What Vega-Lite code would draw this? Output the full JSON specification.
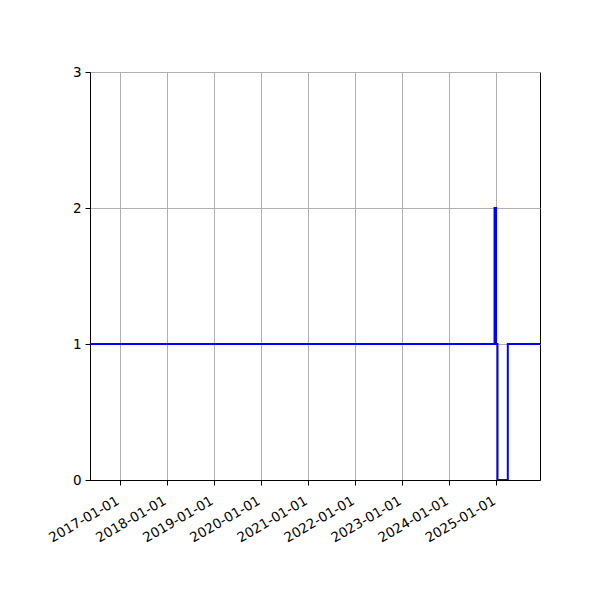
{
  "$schema": "https://vega.github.io/schema/vega-lite/v6.json",
  "width": 450,
  "height": 408,
  "autosize": {"type": "none"},
  "padding": {"left": 90, "top": 72, "right": 60, "bottom": 120},
  "background": "white",
  "config": {
    "view": {"stroke": "black", "strokeWidth": 1},
    "axis": {
      "labelFont": "DejaVu Sans",
      "labelFontSize": 13.5,
      "labelColor": "black",
      "domainColor": "black",
      "tickColor": "black",
      "tickSize": 5,
      "gridColor": "#b0b0b0",
      "gridWidth": 1,
      "title": null,
      "labelOverlap": false
    }
  },
  "data": {
    "values": [
      {"date": "2016-05-15", "value": 1},
      {"date": "2024-12-20", "value": 2},
      {"date": "2025-01-01", "value": 1},
      {"date": "2025-01-12", "value": 0},
      {"date": "2025-04-02", "value": 1},
      {"date": "2025-12-31", "value": 1}
    ]
  },
  "mark": {"type": "line", "interpolate": "step-after", "color": "blue", "strokeWidth": 2, "clip": true},
  "encoding": {
    "x": {
      "field": "date",
      "type": "temporal",
      "scale": {"domain": ["2016-05-15", "2025-12-08"]},
      "axis": {
        "values": ["2017-01-01", "2018-01-01", "2019-01-01", "2020-01-01", "2021-01-01", "2022-01-01", "2023-01-01", "2024-01-01", "2025-01-01"],
        "format": "%Y-%m-%d",
        "labelAngle": -30,
        "labelAlign": "right",
        "labelBaseline": "alphabetic",
        "labelPadding": 18,
        "grid": true
      }
    },
    "y": {
      "field": "value",
      "type": "quantitative",
      "scale": {"domain": [0, 3], "nice": false},
      "axis": {"values": [0, 1, 2, 3], "grid": true, "labelPadding": 4}
    }
  }
}
